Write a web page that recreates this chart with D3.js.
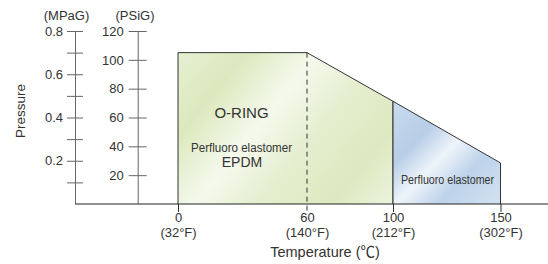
<!DOCTYPE html>
<html>
  <head>
    <meta charset="utf-8" />
    <title>O-RING pressure / temperature range</title>
    <script src="https://d3js.org/d3.v7.min.js"></script>
    <style>
      body {
        margin: 0;
        background: #fff;
      }
      svg text {
        font-family: 'Liberation Sans', 'Noto Sans CJK JP', sans-serif;
        fill: #333;
      }
    </style>
  </head>
  <body>
    <div id="chart"></div>
    <script>
      // data
      const tempTicks = [0, 60, 100, 150];
      const tempF = ['(32°F)', '(140°F)', '(212°F)', '(302°F)'];
      const mpaTicks = [0.1, 0.2, 0.3, 0.4, 0.5, 0.6, 0.7, 0.8];
      const mpaLabels = [0.2, 0.4, 0.6, 0.8];
      const psiTicks = [20, 40, 60, 80, 100, 120];
      // upper pressure limit (MPa) along temperature (°C)
      const limitTemp = [0, 60, 100, 150];
      const limitMPa = [0.7, 0.7, 0.475, 0.19];
      const zones = [
        { name: 'oring', from: 0, to: 100 },
        { name: 'perfluoro', from: 100, to: 150 },
      ];

      const width = 548;
      const height = 264;
      const base = 204;
      const mpaX = 75;
      const psiX = 137.7;

      const svg = d3
        .select('#chart')
        .append('svg')
        .attr('width', width)
        .attr('height', height);

      const x = d3.scaleLinear().domain([0, 150]).range([178, 500.5]);
      const yM = d3.scaleLinear().domain([0, 0.8]).range([base, 31]);
      const yP = d3.scaleLinear().domain([0, 120]).range([base, 31]);

      const limit = d3.scaleLinear().domain(limitTemp).range(limitMPa);

      // gradients
      const defs = svg.append('defs');
      const g1 = defs
        .append('linearGradient')
        .attr('id', 'grad-oring')
        .attr('gradientUnits', 'userSpaceOnUse')
        .attr('x1', 178).attr('y1', 40)
        .attr('x2', 393).attr('y2', 215);
      [
        [0, '#e8f0d6'],
        [0.22, '#dce9be'],
        [0.42, '#f5f9ed'],
        [0.6, '#e5eecf'],
        [0.8, '#dde9c0'],
        [1, '#eff5e2'],
      ].forEach(([o, c]) => g1.append('stop').attr('offset', o).attr('stop-color', c));

      const g2 = defs
        .append('linearGradient')
        .attr('id', 'grad-perfluoro')
        .attr('gradientUnits', 'userSpaceOnUse')
        .attr('x1', 393).attr('y1', 100)
        .attr('x2', 500).attr('y2', 204);
      [
        [0, '#c9dbee'],
        [0.3, '#b7cee7'],
        [0.5, '#eef4fa'],
        [0.7, '#bdd3ea'],
        [1, '#d3e2f1'],
      ].forEach(([o, c]) => g2.append('stop').attr('offset', o).attr('stop-color', c));

      // zone areas
      zones.forEach((z) => {
        const pts = limitTemp
          .filter((t) => t > z.from && t < z.to)
          .concat([z.from, z.to])
          .sort((a, b) => a - b);
        const area = d3
          .area()
          .x((t) => x(t))
          .y0(base)
          .y1((t) => yM(limit(t)));
        svg
          .append('path')
          .attr('d', area(pts))
          .attr('fill', `url(#grad-${z.name})`);
        const line = d3
          .line()
          .x((d) => x(d[0]))
          .y((d) => d[1]);
        const outline = [[z.from, base]]
          .concat(pts.map((t) => [t, yM(limit(t))]))
          .concat([[z.to, base]]);
        svg
          .append('path')
          .attr('d', line(outline))
          .attr('fill', 'none')
          .attr('stroke', '#333')
          .attr('stroke-width', 1);
      });

      // dashed line at 60°C
      svg
        .append('line')
        .attr('x1', x(60)).attr('x2', x(60))
        .attr('y1', yM(limit(60))).attr('y2', base + 7)
        .attr('stroke', '#333')
        .attr('stroke-dasharray', '5,4');

      // x axis
      const xAxis = svg
        .append('g')
        .attr('transform', `translate(0,${base})`)
        .call(
          d3.axisBottom(x).tickValues(tempTicks).tickSize(8).tickFormat(d3.format('d'))
        );
      xAxis.select('.domain').remove();
      xAxis.selectAll('.tick line').attr('stroke', (d) => (d === 60 ? 'none' : '#333'));
      xAxis
        .selectAll('.tick text')
        .attr('y', 18)
        .attr('dy', 0)
        .style('font-size', '13px')
        .attr('fill', '#333');
      xAxis
        .selectAll('.tick')
        .append('text')
        .attr('y', 33)
        .attr('text-anchor', 'middle')
        .style('font-size', '13px')
        .text((d, i) => tempF[i]);

      svg
        .append('line')
        .attr('x1', mpaX).attr('x2', width)
        .attr('y1', base).attr('y2', base)
        .attr('stroke', '#222');

      // MPa axis
      const mAxis = svg
        .append('g')
        .attr('transform', `translate(${mpaX},0)`)
        .call(
          d3
            .axisLeft(yM)
            .tickValues(mpaTicks)
            .tickSizeInner(8)
            .tickSizeOuter(0)
            .tickPadding(4)
            .tickFormat((d) => (mpaLabels.some((v) => Math.abs(v - d) < 1e-9) ? d3.format('.1f')(d) : ''))
        );
      mAxis.selectAll('.tick line').attr('x1', 8).attr('stroke', '#666');
      mAxis.select('.domain').attr('stroke', '#666');

      // PSI axis
      const pAxis = svg
        .append('g')
        .attr('transform', `translate(${psiX},0)`)
        .call(
          d3
            .axisLeft(yP)
            .tickValues(psiTicks)
            .tickSizeInner(9)
            .tickSizeOuter(0)
            .tickPadding(5)
        );
      pAxis.selectAll('.tick line').attr('x1', 9).attr('stroke', '#666');
      pAxis.select('.domain').attr('stroke', '#666');

      [mAxis, pAxis].forEach((a) =>
        a.selectAll('.tick text').style('font-size', '13px').attr('fill', '#333')
      );

      // axis titles
      svg.append('text').attr('x', 66.5).attr('y', 20).attr('text-anchor', 'middle')
        .style('font-size', '13px').text('(MPaG)');
      svg.append('text').attr('x', 135).attr('y', 20).attr('text-anchor', 'middle')
        .style('font-size', '13px').text('(PSiG)');
      svg.append('text')
        .attr('transform', 'translate(25,111) rotate(-90)')
        .attr('text-anchor', 'middle')
        .style('font-size', '13.5px')
        .text('Pressure');
      svg.append('text').attr('x', 325).attr('y', 257).attr('text-anchor', 'middle')
        .style('font-size', '14.5px').text('Temperature (℃)');

      // zone labels
      svg.append('text').attr('x', 241.5).attr('y', 117.5).attr('text-anchor', 'middle')
        .style('font-size', '15px').text('O-RING');
      svg.append('text').attr('x', 241.5).attr('y', 151.5).attr('text-anchor', 'middle')
        .style('font-size', '12.5px')
        .attr('textLength', 101).attr('lengthAdjust', 'spacingAndGlyphs')
        .text('Perfluoro elastomer');
      svg.append('text').attr('x', 242).attr('y', 167).attr('text-anchor', 'middle')
        .style('font-size', '14px').text('EPDM');
      svg.append('text').attr('x', 447.5).attr('y', 184).attr('text-anchor', 'middle')
        .style('font-size', '12.5px')
        .attr('textLength', 93).attr('lengthAdjust', 'spacingAndGlyphs')
        .text('Perfluoro elastomer');
    </script>
  </body>
</html>
